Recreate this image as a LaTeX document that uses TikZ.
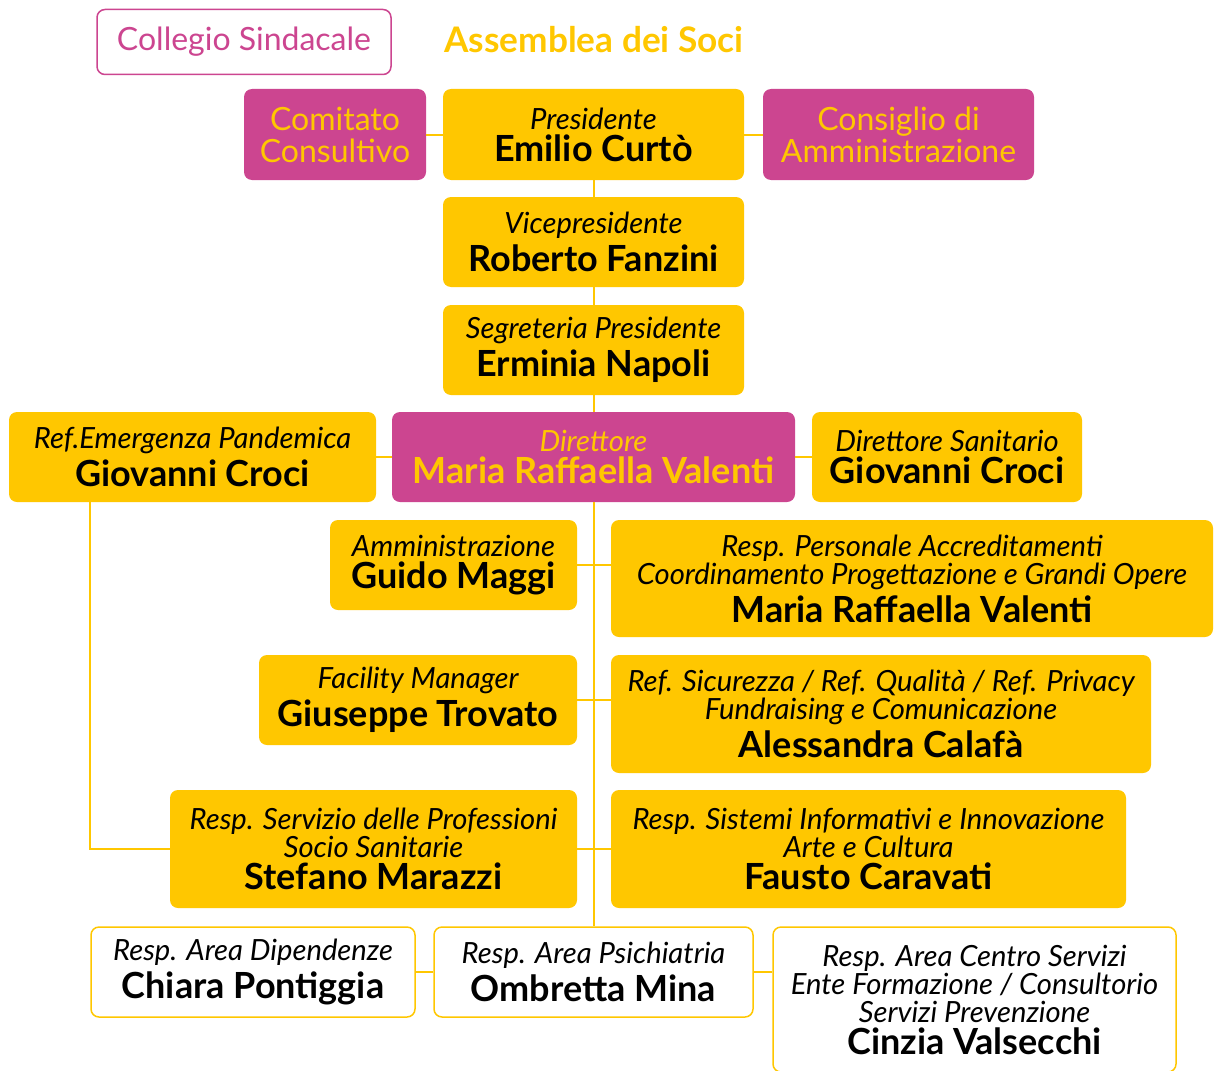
\documentclass[tikz,border=0pt]{standalone}
\usepackage{fontspec}
\setmainfont{Lato}
\usetikzlibrary{positioning}

\definecolor{orgyellow}{HTML}{FFC700}
\definecolor{orgmagenta}{HTML}{CC4590}

\newcommand{\nome}[1]{{\fontsize{18}{18}\selectfont\upshape\bfseries #1}}

\begin{document}
\begin{tikzpicture}[
                x=0.5pt, y=-0.5pt,
                box/.style 2 args={rounded corners=4pt, minimum width=#1*0.5pt, minimum height=#2*0.5pt,
                  inner sep=0pt, align=center, font=\fontsize{14.6}{14}\selectfont\itshape},
                ybox/.style 2 args={box={#1}{#2}, fill=orgyellow, text=black},
                mbox/.style 2 args={box={#1}{#2}, fill=orgmagenta, text=orgyellow},
                wbox/.style 2 args={box={#1}{#2}, draw=orgyellow, line width=0.75pt, fill=white, text=black},
                link/.style={draw=orgyellow, line width=1pt}
                ]
                \useasboundingbox[fill=white] (0,0) rectangle (1219,1070);
                % Top
                \node[wbox={294}{65}, draw=orgmagenta, text=orgmagenta, font=\fontsize{16}{16}\selectfont] (collegio) at (244,42) {Collegio Sindacale};
                \node[text=orgyellow, font=\fontsize{17.6}{18}\selectfont\bfseries] (assemblea) at (594,40) {Assemblea dei Soci};
                % Level 1
                \node[mbox={182}{91}, font=\fontsize{16}{16}\selectfont] (comitato) at (335,134.5) {Comitato\\Consultivo};
                \node[ybox={301}{91}] (pres) at (593.5,134.5) {Presidente\\[2pt]\nome{Emilio Curtò}};
                \node[mbox={271}{91}, font=\fontsize{16}{16}\selectfont] (consiglio) at (898.5,134.5) {Consiglio di\\Amministrazione};
                \node[ybox={301}{90}] (vice) at (593.5,242) {Vicepresidente\\[2pt]\nome{Roberto Fanzini}};
                \node[ybox={301}{90}] (segr) at (593.5,350) {Segreteria Presidente\\[2pt]\nome{Erminia Napoli}};
                % Level 2
                \node[ybox={367}{90}] (refem) at (192.5,457) {Ref.Emergenza Pandemica\\[2pt]\nome{Giovanni Croci}};
                \node[mbox={403}{90}] (dir) at (593.5,457) {Direttore\\[2pt]\nome{Maria Raffaella Valenti}};
                \node[ybox={270}{90}] (dirsan) at (947,457) {Direttore Sanitario\\[2pt]\nome{Giovanni Croci}};
                % Level 3
                \node[ybox={247}{90}] (amm) at (453.5,565) {Amministrazione\\[2pt]\nome{Guido Maggi}};
                \node[ybox={602}{117}] (pers) at (912,578.5) {Resp. Personale Accreditamenti\\Coordinamento Progettazione e Grandi Opere\\[2pt]\nome{Maria Raffaella Valenti}};
                \node[ybox={318}{90}] (facility) at (418,700) {Facility Manager\\[2pt]\nome{Giuseppe Trovato}};
                \node[ybox={540}{118}] (sicur) at (881,714) {Ref. Sicurezza / Ref. Qualità / Ref. Privacy\\Fundraising e Comunicazione\\[2pt]\nome{Alessandra Calafà}};
                \node[ybox={407}{118}] (stef) at (373.5,849) {Resp. Servizio delle Professioni\\Socio Sanitarie\\[2pt]\nome{Stefano Marazzi}};
                \node[ybox={515}{118}] (sist) at (868.5,849) {Resp. Sistemi Informativi e Innovazione\\Arte e Cultura\\[2pt]\nome{Fausto Caravati}};
                % Level 4
                \node[wbox={324}{90}] (dip) at (253,972) {Resp. Area Dipendenze\\[2pt]\nome{Chiara Pontiggia}};
                \node[wbox={319}{90}] (psich) at (593.5,972) {Resp. Area Psichiatria\\[2pt]\nome{Ombretta Mina}};
                \node[wbox={403}{145}] (centro) at (974.5,999.5) {Resp. Area Centro Servizi\\Ente Formazione / Consultorio\\Servizi Prevenzione\\[2pt]\nome{Cinzia Valsecchi}};
                % Connectors
                \draw[link] (comitato) -- (pres) -- (consiglio);
                \draw[link] (pres) -- (vice) -- (segr) -- (dir);
                \draw[link] (refem) -- (dir) -- (dirsan);
                \draw[link] (dir) -- (psich);
                \draw[link] (amm) -- (amm -| pers.west);
                \draw[link] (facility) -- (facility -| sicur.west);
                \draw[link] (stef) -- (stef -| sist.west);
                \draw[link] ([xshift=40.5pt]refem.south west) |- (stef);
                \draw[link] (dip) -- (psich) -- (psich -| centro.west);
              \end{tikzpicture}
\end{document}
